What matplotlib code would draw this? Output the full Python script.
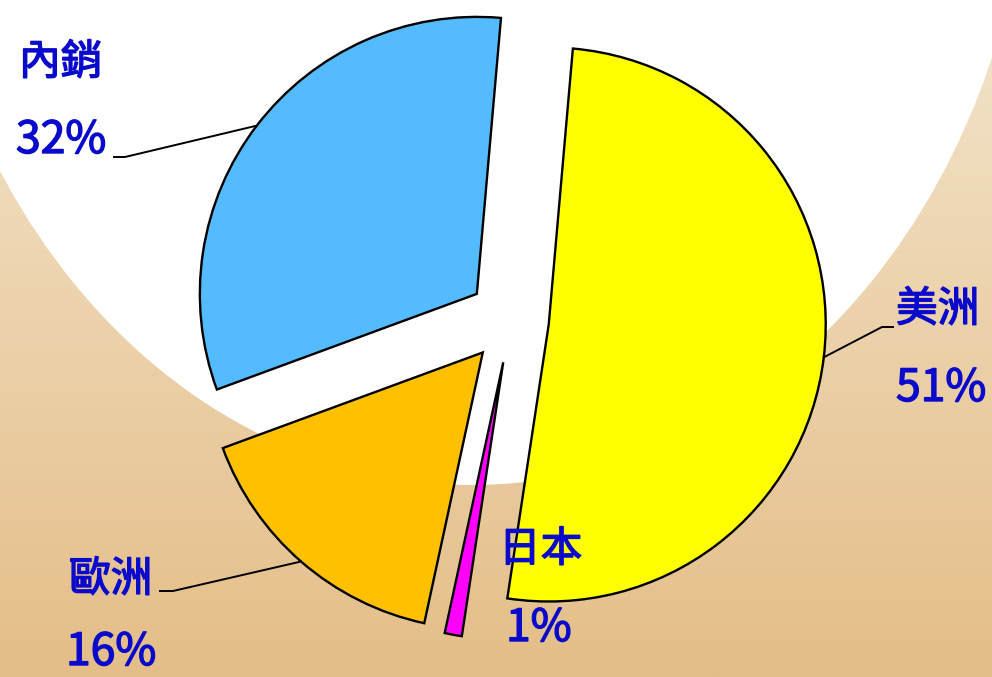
import numpy as np
import matplotlib.pyplot as plt
import matplotlib.patheffects as pe
from matplotlib.colors import LinearSegmentedColormap
from matplotlib.patches import Ellipse

plt.rcParams['font.family'] = ['Noto Sans CJK TC', 'DejaVu Sans']

# data
regions = ['內銷', '歐洲', '日本', '美洲']
shares = [32, 16, 1, 51]
colors = ['#55bbff', '#ffc000', '#ff00ff', '#ffff00']

W, H = 992, 677
text_color = '#0a0acc'

fig = plt.figure(figsize=(W / 100, H / 100), dpi=100)
ax = fig.add_axes([0, 0, 1, 1])

# background: tan gradient with a big white ellipse on top
bg = LinearSegmentedColormap.from_list('bg', ['#e4be88', '#f3e4cb'])
grad = np.linspace(0, 1, 256).reshape(-1, 1)
ax.imshow(grad, cmap=bg, extent=[0, W, 0, H], origin='lower', aspect='auto', zorder=0)
ax.add_patch(Ellipse((472, H + 195), 2 * 560, 2 * 680, facecolor='white', edgecolor='none', zorder=1))

# exploded pie (explode is in data units = pixels here)
center = (511, H - 320)
radius = 277
wedges, _ = ax.pie(shares, colors=colors, startangle=85, radius=radius, center=center,
                   explode=[43, 43, 43, 38],
                   wedgeprops=dict(edgecolor='black', linewidth=1.7))
for w in wedges:
    w.set_zorder(3)

ax.set_xlim(0, W)
ax.set_ylim(0, H)
ax.set_aspect('equal')
ax.axis('off')

# label layout: (name x, name y, pct x, pct y) in pixels from top-left
label_pos = [(19, 63, 16, 140), (69, 580, 66, 652), (499, 550, 506, 628), (896, 310, 896, 388)]
# leader elbow / end points (pixels from top-left), None = no leader
leaders = [((125, 157), (114, 157)), ((173, 591), (160, 591)), None, ((882, 327), (893, 327))]

thick = [pe.withStroke(linewidth=1.0, foreground=text_color)]
for w, name, v, (nx, ny, px, py), ld in zip(wedges, regions, shares, label_pos, leaders):
    ax.text(nx, H - ny, name, color=text_color, fontsize=30,
            ha='left', va='center', zorder=5, path_effects=thick)
    ax.text(px, H - py, f'{v}%', color=text_color, fontsize=32,
            ha='left', va='center', zorder=5, path_effects=thick)
    if ld is None:
        continue
    mid = np.deg2rad((w.theta1 + w.theta2) / 2)
    x0 = w.center[0] + w.r * np.cos(mid)
    y0 = w.center[1] + w.r * np.sin(mid)
    (ex, ey), (tx, ty) = ld
    ax.plot([x0, ex, tx], [y0, H - ey, H - ty], color='black', linewidth=1.4, zorder=4)

plt.savefig('out.png', dpi=100)
